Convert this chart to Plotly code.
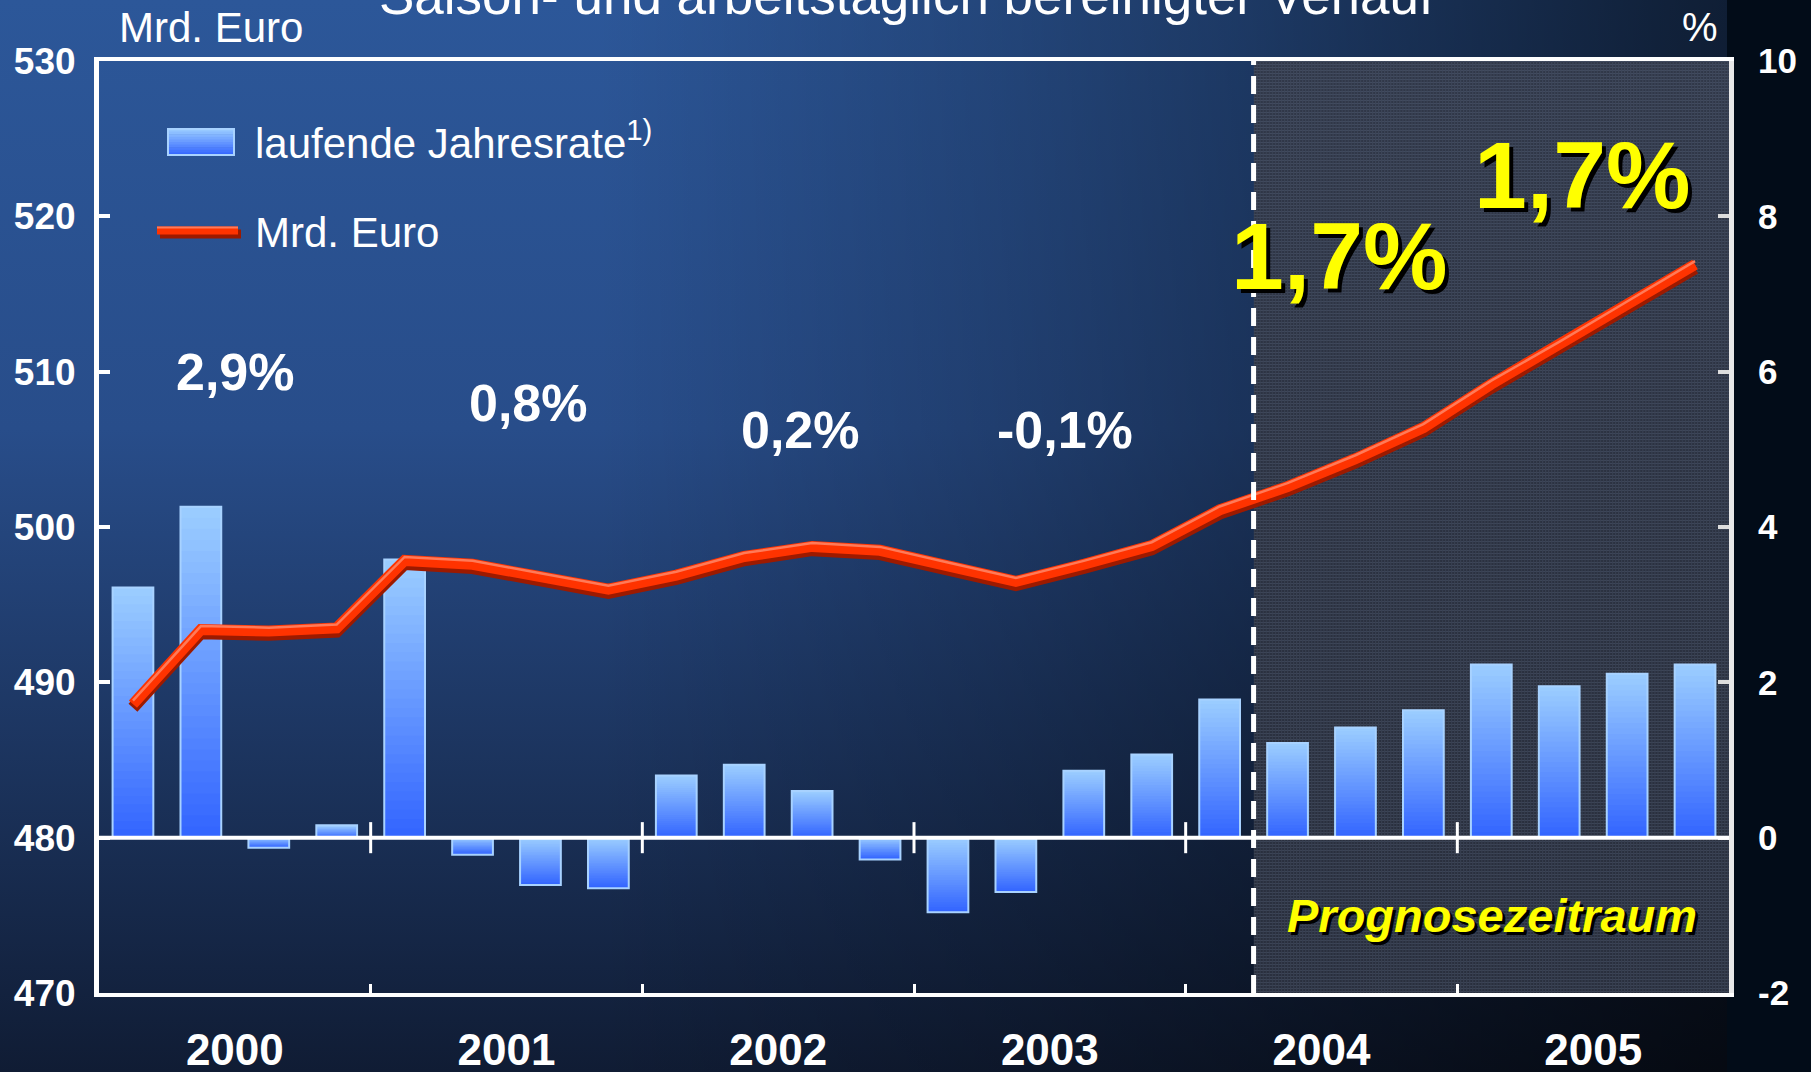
import base64
import plotly.graph_objects as go

# ---------------- data ----------------
years = ["2000", "2001", "2002", "2003", "2004", "2005"]
quarters_per_year = 4
# laufende Jahresrate (%), quarterly 2000Q1 .. 2005Q4
rate_pct = [3.22, 4.26, -0.13, 0.16, 3.58, -0.22, -0.61, -0.65,
            0.80, 0.94, 0.60, -0.28, -0.96, -0.70, 0.86, 1.07,
            1.78, 1.22, 1.42, 1.64, 2.23, 1.95, 2.11, 2.23]
# Verlauf in Mrd. Euro
volume_bn = [488.6, 493.4, 493.3, 493.5, 497.85, 497.6, 496.8, 496.0,
             496.9, 498.1, 498.75, 498.5, 497.5, 496.5, 497.6, 498.8,
             501.1, 502.6, 504.4, 506.4, 509.2, 511.7, 514.3, 516.9]
annual_labels = ["2,9%", "0,8%", "0,2%", "-0,1%"]
forecast_labels = ["1,7%", "1,7%"]
forecast_first_quarter = 17          # 2004 Q2 is the first forecast quarter
left_ticks = [470, 480, 490, 500, 510, 520, 530]
right_ticks = [-2, 0, 2, 4, 6, 8, 10]

# ---------------- geometry helpers ----------------
W, H = 1811, 1072
ML, MR, MT, MB = 99, 82, 61, 79
PW, PH = W - ML - MR, H - MT - MB


def px(xp):
    return (xp - ML) / PW


def py(yp):
    return (H - MB - yp) / PH


FONT = "Liberation Sans, Arial, Helvetica, sans-serif"
x = list(range(len(rate_pct)))
year_centers = [i * quarters_per_year + 1.5 for i in range(len(years))]
year_bounds = [i * quarters_per_year - 0.5 for i in range(1, len(years))]
fc_x = forecast_first_quarter - 0.5

fig = go.Figure()

# ---------------- gradient bars (overlapping slices) ----------------
LIGHT = (156, 206, 255)
DARK = (50, 100, 255)


def mix(f):
    c = [round(LIGHT[i] + (DARK[i] - LIGHT[i]) * f) for i in range(3)]
    return "rgb(%d,%d,%d)" % tuple(c)


N = 30
for k in range(N):
    bases = [v * k / N for v in rate_pct]
    grow = 1.0 if k == N - 1 else 1.8
    heights = [v / N * grow for v in rate_pct]
    cols = []
    for v in rate_pct:
        f_top = 1 - (k + 0.5) / N if v >= 0 else (k + 0.5) / N
        cols.append(mix(f_top))
    fig.add_trace(go.Bar(x=x, y=heights, base=bases, width=0.6,
                         marker=dict(color=cols, line=dict(width=0)),
                         yaxis="y", showlegend=False, hoverinfo="skip"))
fig.add_trace(go.Bar(x=x, y=rate_pct, width=0.6,
                     marker=dict(color="rgba(0,0,0,0)",
                                 line=dict(color="#A8D2FF", width=2)),
                     yaxis="y", showlegend=False, hoverinfo="skip"))

# ---------------- 3D-ish red line ----------------
fig.add_trace(go.Scatter(x=x, y=[v - 0.24 for v in volume_bn], mode="lines",
                         line=dict(color="#9C1A00", width=12),
                         yaxis="y2", showlegend=False, hoverinfo="skip"))
fig.add_trace(go.Scatter(x=x, y=volume_bn, mode="lines",
                         line=dict(color="#FF3300", width=11),
                         yaxis="y2", showlegend=False))
fig.add_trace(go.Scatter(x=x, y=[v + 0.22 for v in volume_bn], mode="lines",
                         line=dict(color="#FF7A58", width=2.5),
                         yaxis="y2", showlegend=False, hoverinfo="skip"))

# ---------------- background images ----------------
bg_svg = f'''<svg xmlns="http://www.w3.org/2000/svg" width="{W}" height="{H}" viewBox="0 0 {W} {H}" preserveAspectRatio="none">
<defs>
<linearGradient id="v" x1="0" y1="0" x2="0" y2="1">
<stop offset="0" stop-color="#2C5799"/>
<stop offset="0.4" stop-color="#284D8A"/>
<stop offset="1" stop-color="#101C34"/>
</linearGradient>
<linearGradient id="h" x1="0" y1="0" x2="1" y2="0">
<stop offset="0" stop-color="#000" stop-opacity="0"/>
<stop offset="0.33" stop-color="#000" stop-opacity="0"/>
<stop offset="0.55" stop-color="#000" stop-opacity="0.2"/>
<stop offset="0.69" stop-color="#000" stop-opacity="0.35"/>
<stop offset="0.92" stop-color="#000" stop-opacity="0.62"/>
<stop offset="1" stop-color="#000" stop-opacity="0.7"/>
</linearGradient>
</defs>
<rect width="{W}" height="{H}" fill="url(#v)"/>
<rect width="{W}" height="{H}" fill="url(#h)"/>
<rect x="1727" y="0" width="{W-1727}" height="{H}" fill="#020C18"/>
</svg>'''
tex_svg = '''<svg xmlns="http://www.w3.org/2000/svg" width="475" height="932" viewBox="0 0 475 932" preserveAspectRatio="none">
<defs>
<pattern id="p" width="3" height="3" patternUnits="userSpaceOnUse">
<rect width="3" height="3" fill="#2B3140"/>
<rect width="3" height="1" fill="#3F485B"/>
<rect width="1" height="3" fill="#394153"/>
</pattern>
<linearGradient id="g" x1="0" y1="0" x2="0" y2="1">
<stop offset="0" stop-color="#5A6A88" stop-opacity="0.12"/>
<stop offset="1" stop-color="#000" stop-opacity="0.05"/>
</linearGradient>
</defs>
<rect width="475" height="932" fill="url(#p)"/>
<rect width="475" height="932" fill="url(#g)"/>
</svg>'''


def uri(s):
    return "data:image/svg+xml;base64," + base64.b64encode(s.encode()).decode()


images = [
    dict(source=uri(bg_svg), xref="paper", yref="paper", x=px(0), y=py(0),
         sizex=W / PW, sizey=H / PH, xanchor="left", yanchor="top",
         sizing="stretch", layer="below"),
    dict(source=uri(tex_svg), xref="x", yref="paper", x=fc_x, y=1,
         sizex=len(rate_pct) - 0.5 - fc_x + 0.08, sizey=1, xanchor="left", yanchor="top",
         sizing="stretch", layer="below"),
]

# ---------------- shapes ----------------
shapes = [
    dict(type="line", xref="x", yref="paper", x0=fc_x, x1=fc_x, y0=0, y1=1,
         line=dict(color="white", width=5, dash="18px,11px"), layer="above"),
    dict(type="line", xref="paper", yref="y", x0=0, x1=1, y0=0, y1=0,
         line=dict(color="white", width=4), layer="above"),
]
for b in year_bounds:
    shapes.append(dict(type="line", xref="x", yref="y", x0=b, x1=b, y0=-0.2, y1=0.2,
                       line=dict(color="white", width=3), layer="above"))

# legend swatches (paper coords from pixels)
LS_N = 10
for k in range(LS_N):
    y0p = 129 + k * 26 / LS_N
    y1p = 129 + (k + 1) * 26 / LS_N + (0.6 if k < LS_N - 1 else 0)
    shapes.append(dict(type="rect", xref="paper", yref="paper",
                       x0=px(168), x1=px(234), y0=py(y1p), y1=py(y0p),
                       fillcolor=mix((k + 0.5) / LS_N), line=dict(width=0)))
shapes.append(dict(type="rect", xref="paper", yref="paper",
                   x0=px(168), x1=px(234), y0=py(155), y1=py(129),
                   fillcolor="rgba(0,0,0,0)", line=dict(color="#A8D2FF", width=2)))
shapes.append(dict(type="line", xref="paper", yref="paper", x0=px(160), x1=px(241),
                   y0=py(234), y1=py(234), line=dict(color="#9C1A00", width=9)))
shapes.append(dict(type="line", xref="paper", yref="paper", x0=px(157), x1=px(238),
                   y0=py(230.5), y1=py(230.5), line=dict(color="#FF3300", width=8)))
shapes.append(dict(type="line", xref="paper", yref="paper", x0=px(157), x1=px(238),
                   y0=py(227.5), y1=py(227.5), line=dict(color="#FF7A58", width=2)))

# ---------------- annotations ----------------
ann = []


def text(t, xp, yp, size, color="white", bold=False, italic=False,
         xanchor="center", shadow=None):
    f = dict(family=FONT, size=size, color=color,
             weight="bold" if bold else "normal",
             style="italic" if italic else "normal")
    if shadow:
        fs = dict(f)
        fs["color"] = "black"
        ann.append(dict(text=t, x=px(xp), y=py(yp), xref="paper", yref="paper",
                        xanchor=xanchor, yanchor="middle", showarrow=False, font=fs,
                        xshift=shadow, yshift=-shadow))
    ann.append(dict(text=t, x=px(xp), y=py(yp), xref="paper", yref="paper",
                    xanchor=xanchor, yanchor="middle", showarrow=False, font=f))


text("Saison- und arbeitstäglich bereinigter Verlauf", 906, -5, 53)
text("Mrd. Euro", 117, 27, 42, xanchor="left")
text("%", 1700, 27, 40)
text("laufende Jahresrate<sup>1)</sup>", 253, 140, 42, xanchor="left")
text("Mrd. Euro", 253, 232, 42, xanchor="left")

annual_pos = [(235.5, 372), (528, 403), (800, 430), (1065, 430)]
for lab, (xp, yp) in zip(annual_labels, annual_pos):
    text(lab, xp, yp, 52, bold=True)

fc_pos = [(1339, 256), (1582, 175)]
for lab, (xp, yp) in zip(forecast_labels, fc_pos):
    text(lab, xp, yp, 95, color="#FFFF00", bold=True, shadow=4)

text("Prognosezeitraum", 1492, 915, 47, color="#FFFF00", bold=True,
     italic=True, shadow=3)

# ---------------- layout ----------------
fig.update_layout(
    width=W, height=H, autosize=False,
    margin=dict(l=ML, r=MR, t=MT, b=MB, pad=0, autoexpand=False),
    paper_bgcolor="#1B2D55", plot_bgcolor="rgba(0,0,0,0)",
    barmode="overlay", showlegend=False,
    font=dict(family=FONT, color="white"),
    images=images, shapes=shapes, annotations=ann,
    xaxis=dict(range=[-0.5, len(rate_pct) - 0.5], tickmode="array",
               tickvals=year_centers, ticktext=years, ticks="",
               tickfont=dict(family=FONT, size=44, color="white", weight="bold"),
               ticklabelstandoff=15, automargin=False,
               showline=True, linecolor="white", linewidth=4, mirror=True,
               showgrid=False, zeroline=False,
               minor=dict(tickmode="array", tickvals=year_bounds, ticks="inside",
                          ticklen=9, tickwidth=3, tickcolor="white", showgrid=False)),
    yaxis=dict(range=[-2, 10], tickmode="array", tickvals=right_ticks,
               ticktext=[str(v) for v in right_ticks],
               side="right", ticks="inside", ticklen=11, tickwidth=4,
               tickcolor="#DDDDDD", automargin=False,
               tickfont=dict(family=FONT, size=35, color="white", weight="bold"),
               ticklabelstandoff=17,
               showline=True, linecolor="#E8E8E8", linewidth=5,
               showgrid=False, zeroline=False),
    yaxis2=dict(range=[470, 530], tickmode="array", tickvals=left_ticks,
                ticktext=[str(v) for v in left_ticks],
                overlaying="y", side="left", ticks="inside", ticklen=11,
                tickwidth=4, tickcolor="white", automargin=False,
                tickfont=dict(family=FONT, size=37, color="white", weight="bold"),
                ticklabelstandoff=11,
                showline=True, linecolor="white", linewidth=5,
                showgrid=False, zeroline=False),
)

fig.write_html("out.html",
               config={"displayModeBar": False, "responsive": False},
               post_script="document.body.style.margin='0';"
                           "document.body.style.overflow='hidden';")
